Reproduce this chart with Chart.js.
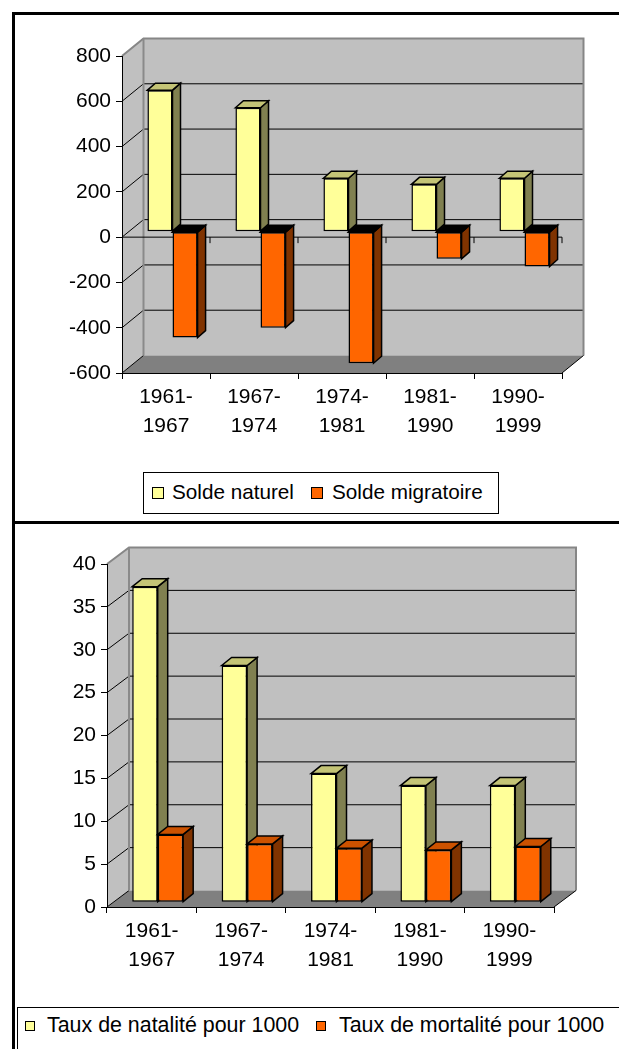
<!DOCTYPE html>
<html>
<head>
<meta charset="utf-8">
<script src="https://cdn.jsdelivr.net/npm/chart.js@4.4.0/dist/chart.umd.min.js"></script>
<style>
  html, body { margin: 0; padding: 0; background: #fff; }
  body { width: 619px; height: 1049px; position: relative; overflow: hidden;
         font-family: "Liberation Sans", Arial, Helvetica, sans-serif; }
  canvas { position: absolute; left: 0; }
  #soldeChart { top: 0; }
  #tauxChart { top: 524px; }
  .rule { position: absolute; background: #000; }
  .legend { position: absolute; border: 1px solid #000; background: #fff; box-sizing: border-box; }
  .legend .sw { position: absolute; border: 1px solid #000; box-sizing: border-box; }
  .legend .txt { position: absolute; line-height: 21px; white-space: nowrap; color: #000; }
  #soldeLegend .txt { font-size: 20.7px; }
  #tauxLegend .txt { font-size: 21.4px; }
</style>
</head>
<body>
<canvas id="soldeChart" width="619" height="521"></canvas>
<canvas id="tauxChart" width="619" height="525"></canvas>

<div class="rule" style="left:12px; top:12px; width:3px; height:1037px;"></div>
<div class="rule" style="left:12px; top:12px; width:607px; height:3px;"></div>
<div class="rule" style="left:12px; top:521px; width:607px; height:3px;"></div>

<div id="soldeLegend" class="legend" style="left:143px; top:472px; width:356px; height:42px;"></div>
<div id="tauxLegend" class="legend" style="left:17px; top:1007px; width:700px; height:100px;"></div>

<script>
// periods shared by both charts
const periods = [['1961-', '1967'], ['1967-', '1974'], ['1974-', '1981'], ['1981-', '1990'], ['1990-', '1999']];

// top chart: solde naturel / migratoire
const soldeNaturel = [625, 547, 236, 209, 236];
const soldeMigratoire = [-468, -424, -581, -120, -154];
const soldeTicks = [-600, -400, -200, 0, 200, 400, 600, 800];

// bottom chart: taux pour 1000
const tauxNatalite = [36.8, 27.6, 15.0, 13.6, 13.6];
const tauxMortalite = [7.9, 6.8, 6.3, 6.1, 6.5];
const tauxTicks = [0, 5, 10, 15, 20, 25, 30, 35, 40];

Chart.defaults.font.family = '"Liberation Sans", Arial, Helvetica, sans-serif';
Chart.defaults.font.size = 21;
Chart.defaults.color = '#000';

function poly(ctx, pts, fill, stroke, lw) {
    ctx.beginPath();
    ctx.moveTo(pts[0][0], pts[0][1]);
    for (let i = 1; i < pts.length; i++) ctx.lineTo(pts[i][0], pts[i][1]);
    ctx.closePath();
    if (fill) { ctx.fillStyle = fill; ctx.fill(); }
    if (stroke) { ctx.strokeStyle = stroke; ctx.lineWidth = lw || 1; ctx.stroke(); }
}

function line(ctx, x1, y1, x2, y2, color, lw) {
    ctx.beginPath();
    ctx.moveTo(x1, y1);
    ctx.lineTo(x2, y2);
    ctx.strokeStyle = color;
    ctx.lineWidth = lw || 1;
    ctx.stroke();
}

// fake excel 3d look: walls + floor behind, bar sides/tops after
const bars3d = {
    id: 'bars3d',
    beforeDraw(chart, args, o) {
        const ctx = chart.ctx, a = chart.chartArea, ys = chart.scales.y, xs = chart.scales.x;
        const wx = o.wall[0], wy = o.wall[1];
        const L = a.left, R = a.right, T = a.top, B = a.bottom;
        ctx.save();
        poly(ctx, [[L, T], [L + wx, T + wy], [L + wx, B + wy], [L, B]], '#c0c0c0');
        poly(ctx, [[L + wx, T + wy], [R + wx, T + wy], [R + wx, B + wy], [L + wx, B + wy]], '#c0c0c0');
        poly(ctx, [[L, B], [L + wx, B + wy], [R + wx, B + wy], [R, B]], '#808080');

        ys.ticks.forEach(t => {
            if (t.value === ys.max) return;
            const py = ys.getPixelForValue(t.value);
            line(ctx, L, py, L + wx, py + wy, '#000', 1);
            if (t.value !== ys.min) line(ctx, L + wx, py + wy, R + wx, py + wy, '#000', 1);
        });

        // wall outline
        ctx.beginPath();
        ctx.moveTo(L, T);
        ctx.lineTo(L + wx, T + wy);
        ctx.lineTo(R + wx, T + wy);
        ctx.lineTo(R + wx, B + wy);
        ctx.strokeStyle = '#868686';
        ctx.lineWidth = 2;
        ctx.stroke();
        line(ctx, L + wx, T + wy, L + wx, B + wy, '#8a8a8a', 2);
        line(ctx, R, B, R + wx, B + wy, '#000', 1);

        if (o.zeroLine) {
            const y0 = ys.getPixelForValue(0);
            line(ctx, L, y0, R, y0, '#000', 1);
            for (let i = 1; i <= xs.ticks.length; i++) {
                const bx = xs.getPixelForValue(i - 0.5);
                line(ctx, bx, y0, bx, y0 + 6, '#000', 1);
            }
        }
        ctx.restore();
    },
    beforeDatasetDraw() {
        return false; // drawn below in our own order
    },
    afterDatasetsDraw(chart, args, o) {
        const ctx = chart.ctx;
        const dx = o.depth[0], dy = o.depth[1];
        ctx.save();
        ctx.translate(o.plane[0], o.plane[1]);
        ctx.lineJoin = 'miter';
        chart.data.datasets.forEach((ds, i) => {
            const meta = chart.getDatasetMeta(i);
            meta.data.forEach(el => {
                el.draw(ctx);
                const p = el.getProps(['x', 'y', 'base', 'width'], true);
                const left = p.x - p.width / 2, right = p.x + p.width / 2;
                const top = Math.min(p.y, p.base), bottom = Math.max(p.y, p.base);
                const neg = p.y > p.base;
                poly(ctx, [[right, top], [right + dx, top + dy], [right + dx, bottom + dy], [right, bottom]], ds.sideColor, '#000', 1.5);
                poly(ctx, [[left, top], [left + dx, top + dy], [right + dx, top + dy], [right, top]],
                    neg ? ds.baseColor : ds.topColor, '#000', 1.5);
            });
        });
        ctx.restore();
    }
};

function barChart(id, cfg) {
    return new Chart(document.getElementById(id), {
        type: 'bar',
        data: { labels: periods, datasets: cfg.datasets },
        options: {
            responsive: false,
            animation: false,
            events: [],
            layout: { padding: cfg.padding },
            plugins: {
                legend: { display: false },
                tooltip: { enabled: false },
                bars3d: cfg.three
            },
            scales: {
                x: {
                    grid: { drawOnChartArea: false, drawTicks: true, tickLength: 6, color: '#000', offset: true },
                    border: { display: true, color: '#000', width: 1 },
                    ticks: { padding: 4, maxRotation: 0, autoSkip: false, font: { size: 21, lineHeight: 1.38 } },
                    afterFit(s) { s.height = 80; }
                },
                y: {
                    min: cfg.ticks[0],
                    max: cfg.ticks[cfg.ticks.length - 1],
                    ticks: { stepSize: cfg.ticks[1] - cfg.ticks[0], padding: 5, font: { size: 21 } },
                    grid: { drawOnChartArea: false, drawTicks: true, tickLength: 6, color: '#000' },
                    border: { display: true, color: '#000', width: 1 },
                    afterFit(s) { s.width = cfg.yWidth; }
                }
            }
        },
        plugins: [bars3d]
    });
}

function series(label, data, front, side, top, base) {
    return {
        label: label, data: data,
        backgroundColor: front, borderColor: '#000', borderWidth: 1.5, borderSkipped: false,
        categoryPercentage: 0.57, barPercentage: 1,
        sideColor: side, topColor: top, baseColor: base
    };
}

const soldeChart = barChart('soldeChart', {
    datasets: [
        series('Solde naturel', soldeNaturel, '#ffff99', '#808050', '#c4c476', '#c4c476'),
        series('Solde migratoire', soldeMigratoire, '#ff6600', '#803300', '#cc5200', '#000000')
    ],
    ticks: soldeTicks,
    yWidth: 122,
    padding: { left: 0, right: 57, top: 56, bottom: 68 },
    three: { wall: [21.5, -17.5], plane: [6.5, -5.5], depth: [8, -7], zeroLine: true }
});

const tauxChart = barChart('tauxChart', {
    datasets: [
        series('Taux de natalité pour 1000', tauxNatalite, '#ffff99', '#808050', '#c4c476', '#c4c476'),
        series('Taux de mortalité pour 1000', tauxMortalite, '#ff6600', '#803300', '#cc5200', '#000000')
    ],
    ticks: tauxTicks,
    yWidth: 107,
    padding: { left: 0, right: 65, top: 40, bottom: 62 },
    three: { wall: [22, -16.5], plane: [6, -4.8], depth: [10, -8], zeroLine: false }
});

// html legends built from the datasets
function htmlLegend(chart, boxId, pos) {
    const box = document.getElementById(boxId);
    chart.data.datasets.forEach((ds, i) => {
        const sw = document.createElement('div');
        sw.className = 'sw';
        sw.style.left = pos.sw[i] + 'px';
        sw.style.top = pos.swTop + 'px';
        sw.style.width = pos.swSize + 'px';
        sw.style.height = pos.swSize + 'px';
        sw.style.background = ds.backgroundColor;
        box.appendChild(sw);
        const t = document.createElement('div');
        t.className = 'txt';
        t.style.left = pos.txt[i] + 'px';
        t.style.top = pos.txtTop + 'px';
        t.textContent = ds.label;
        box.appendChild(t);
    });
}

htmlLegend(soldeChart, 'soldeLegend', { sw: [8, 167], txt: [28, 188], swTop: 14, swSize: 12, txtTop: 7.5 });
htmlLegend(tauxChart, 'tauxLegend', { sw: [7, 298], txt: [29, 321], swTop: 13, swSize: 10, txtTop: 6.5 });
</script>
</body>
</html>
